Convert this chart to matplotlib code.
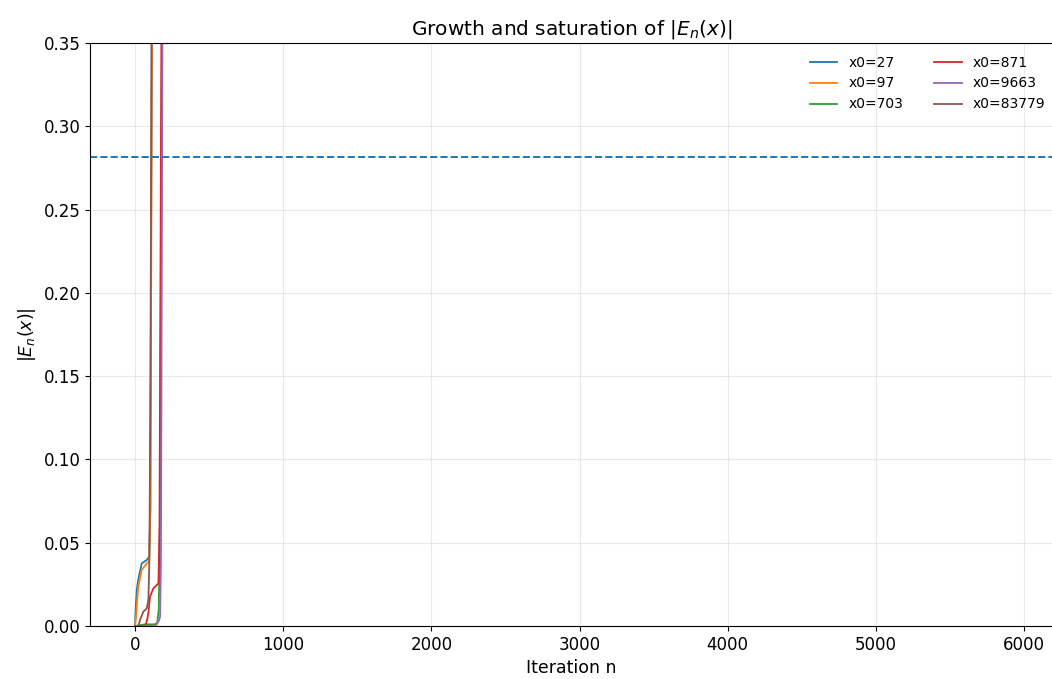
"""
Growth and saturation of |E_n(x)| for a few starting values
"""
import matplotlib
matplotlib.use('Agg')
import matplotlib.pyplot as plt

SEEDS = [27, 97, 703, 871, 9663, 83779]

# iteration index and |E_n| (beyond 0.35 it is off-scale)
N_27 = [0, 5, 12, 22, 45, 79, 95, 103, 113, 130, 6000]
E_27 = [0.0, 0.012, 0.022, 0.028, 0.0376, 0.0396, 0.0416, 0.07, 0.36, 1.0, 1.0]

N_97 = [0, 7, 15, 22, 45, 79, 95, 104, 114, 130, 6000]
E_97 = [0.0, 0.0056, 0.016, 0.0236, 0.0336, 0.0376, 0.0386, 0.07, 0.36, 1.0, 1.0]

N_703 = [0, 68, 135, 150, 160, 168, 182, 200, 6000]
E_703 = [0.0, 0.001, 0.001, 0.002, 0.01, 0.06, 0.36, 1.0, 1.0]

N_871 = [40, 68, 80, 90, 101, 124, 146, 158, 165, 178, 200, 6000]
E_871 = [0.0, 0.0, 0.003, 0.0078, 0.0176, 0.0226, 0.0246, 0.0256, 0.06, 0.36, 1.0, 1.0]

N_9663 = [60, 135, 146, 160, 169, 175, 185, 200, 6000]
E_9663 = [0.0, 0.0, 0.001, 0.003, 0.0056, 0.04, 0.36, 1.0, 1.0]

N_83779 = [10, 22, 34, 56, 79, 90, 97, 104, 112, 130, 6000]
E_83779 = [0.0, 0.0, 0.0036, 0.0086, 0.0106, 0.0156, 0.04, 0.15, 0.36, 1.0, 1.0]

THRESHOLD = 0.2813


def main():
    """
    Draw the chart and save it
    """
    fig = plt.figure(figsize=(10.52, 6.79), dpi=100)
    ax = fig.add_axes([90 / 1052, 1 - 626 / 679, 1.0 - 90 / 1052 + 0.001, (626 - 43) / 679])

    series = [(N_27, E_27), (N_97, E_97), (N_703, E_703),
              (N_871, E_871), (N_9663, E_9663), (N_83779, E_83779)]
    for seed, (n, e) in zip(SEEDS, series):
        ax.plot(n, e, lw=1.3, label=f'x0={seed}')

    ax.axhline(THRESHOLD, color='tab:blue', ls='--', lw=1.4)

    ax.set_xlim(-304, 6196)
    ax.set_ylim(0, 0.35)
    ax.set_xticks(range(0, 6001, 1000))
    ax.set_yticks([i * 0.05 for i in range(8)])
    ax.yaxis.set_major_formatter(plt.FormatStrFormatter('%.2f'))
    ax.tick_params(labelsize=12)
    ax.grid(True, color='#d9d9d9', alpha=0.6, lw=0.8)
    ax.spines['right'].set_visible(False)

    ax.set_xlabel('Iteration n', fontsize=12.5)
    ax.set_ylabel(r'$|E_n(x)|$', fontsize=12.5)
    ax.set_title(r'Growth and saturation of $|E_n(x)|$', fontsize=14.5)
    ax.legend(ncol=2, frameon=False, fontsize=10, loc='upper right',
              bbox_to_anchor=(1.005, 1.0), columnspacing=2.2)

    fig.savefig('out.png', dpi=100)


if __name__ == '__main__':
    main()
